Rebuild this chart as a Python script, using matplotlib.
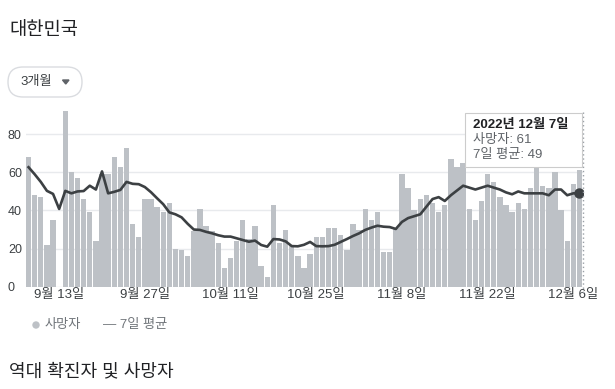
import matplotlib
matplotlib.use('Agg')
import matplotlib.pyplot as plt
from matplotlib.patches import FancyBboxPatch, Polygon, Circle, Rectangle
from matplotlib.lines import Line2D
from matplotlib.transforms import Affine2D
import numpy as np
import pandas as pd

plt.rcParams['font.family'] = ['Liberation Sans', 'Noto Sans CJK KR']

# daily deaths, 2022-09-08 .. 2022-12-07 (no report on 9/13)
dates = pd.date_range('2022-09-08', '2022-12-07', freq='D')
deaths = [68, 48, 47, 22, 35, 0, 92, 60, 57, 46,
          39, 24, 59, 59, 68, 63, 73, 33, 26, 46,
          46, 42, 39, 44, 20, 19, 16, 29, 41, 32,
          29, 23, 10, 15, 24, 35, 25, 32, 11, 5,
          43, 23, 30, 22, 16, 10, 17, 26, 26, 31,
          31, 27, 19, 33, 30, 41, 35, 39, 18, 18,
          31, 59, 52, 40, 46, 48, 44, 39, 43, 67,
          63, 65, 41, 35, 45, 59, 55, 47, 43, 39,
          44, 41, 52, 65, 53, 52, 60, 40, 24, 54,
          61]
avg7 = [62.7, 59, 55, 50.3, 48.7, 40.8, 50.3, 49, 50, 50.2,
        53, 51, 60.5, 49, 49.8, 50.8, 55, 54, 53.8, 52.3,
        49.6, 46.4, 43.3, 39, 38, 36.4, 33, 30, 29.8, 28.8,
        28, 27, 26.3, 26.3, 25.4, 24.5, 23.6, 24.2, 21.9, 21,
        25, 24.8, 23.8, 21.3, 21.2, 22, 23.5, 21.3, 21.2, 21.3,
        22, 23.5, 25, 26.6, 28, 29.8, 31, 32, 31.5, 31.3,
        30.3, 34, 36, 37, 38, 42, 46, 47, 45, 48,
        50.5, 53, 52, 51, 52, 53, 52, 51, 49.5, 48.5,
        50, 49, 49, 49, 49, 48, 51, 51, 48, 49,
        49]
tick_dates = ['2022-09-13', '2022-09-27', '2022-10-11', '2022-10-25',
              '2022-11-08', '2022-11-22', '2022-12-06']
tick_labels = ['9월 13일', '9월 27일', '10월 11일', '10월 25일',
               '11월 8일', '11월 22일', '12월 6일']
y_ticks = [0, 20, 40, 60, 80]

W, H = 615, 389
bar_col = '#bdc1c6'
line_col = '#3c4043'

fig = plt.figure(figsize=(W / 100, H / 100), dpi=100)
# pixel coordinates measured from the top-left corner
px = Affine2D().scale(1 / W, -1 / H).translate(0, 1) + fig.transFigure

ax = fig.add_axes([25.5 / W, 1 - 286.7 / H, 557 / W, 175.3 / H])
x = np.arange(len(dates))
ax.bar(x, deaths, width=0.88, color=bar_col, zorder=2)
ax.plot(x, avg7, color=line_col, lw=1.9, zorder=3, solid_joinstyle='round')
ax.plot(x[-1], avg7[-1], 'o', ms=6.5, color=line_col, zorder=4)

ax.set_xlim(-0.5, len(dates) - 0.5)
ax.set_ylim(0, 92)
for s in ax.spines.values():
    s.set_visible(False)

ax.set_yticks(y_ticks)
ax.yaxis.grid(True, color='#e8eaed', lw=1)
ax.set_axisbelow(True)
ax.tick_params(axis='y', length=0, pad=12.6, labelsize=9, labelcolor='#3c4043')
for lbl in ax.get_yticklabels():
    lbl.set_horizontalalignment('left')

tick_pos = [dates.get_loc(pd.Timestamp(d)) for d in tick_dates]
ax.set_xticks(tick_pos)
ax.set_xticklabels(tick_labels)
ax.tick_params(axis='x', length=0, pad=2, labelsize=9.5, labelcolor='#3c4043')

# hover guide line
fig.add_artist(Line2D([582.7, 582.7], [112, 293], transform=px, color='#9aa0a6',
                      lw=1, ls=(0, (1, 2)), zorder=2))

# tooltip
fig.add_artist(Rectangle((466, 114), 117, 54, transform=px, facecolor='#e0e0e0',
                         edgecolor='none', zorder=4))
fig.add_artist(Rectangle((465, 113), 117, 54, transform=px, facecolor='white',
                         edgecolor='#cccccc', lw=0.8, zorder=5))
fig.text(473 / W, 1 - 125 / H, '2022년 12월 7일', fontsize=9.5, fontweight='bold',
         color='#202124', va='center', zorder=6)
fig.text(473 / W, 1 - 140 / H, '사망자: 61', fontsize=9.5, color='#5f6368',
         va='center', zorder=6)
fig.text(473 / W, 1 - 155 / H, '7일 평균: 49', fontsize=9.5, color='#5f6368',
         va='center', zorder=6)

# header
fig.text(9 / W, 1 - 30 / H, '대한민국', fontsize=13.5, color='#202124', va='center')
fig.add_artist(FancyBboxPatch((8, 67), 74, 30, transform=px,
                              boxstyle='round,pad=0,rounding_size=15',
                              facecolor='white', edgecolor='#dadce0', lw=1))
fig.text(20 / W, 1 - 82 / H, '3개월', fontsize=9.5, color='#3c4043', va='center')
fig.add_artist(Polygon([(62.5, 80), (69, 80), (65.75, 84)], closed=True,
                       transform=px, color='#5f6368'))

# legend
fig.add_artist(Circle((36, 325), 3, transform=px, color='#bdc1c6'))
fig.text(45 / W, 1 - 325 / H, '사망자', fontsize=9.5, color='#70757a', va='center')
fig.text(103 / W, 1 - 325 / H, '— 7일 평균', fontsize=9.5, color='#70757a', va='center')

fig.text(9 / W, 1 - 372 / H, '역대 확진자 및 사망자', fontsize=13, color='#202124', va='center')

fig.savefig('out.png', dpi=100, facecolor='white')
